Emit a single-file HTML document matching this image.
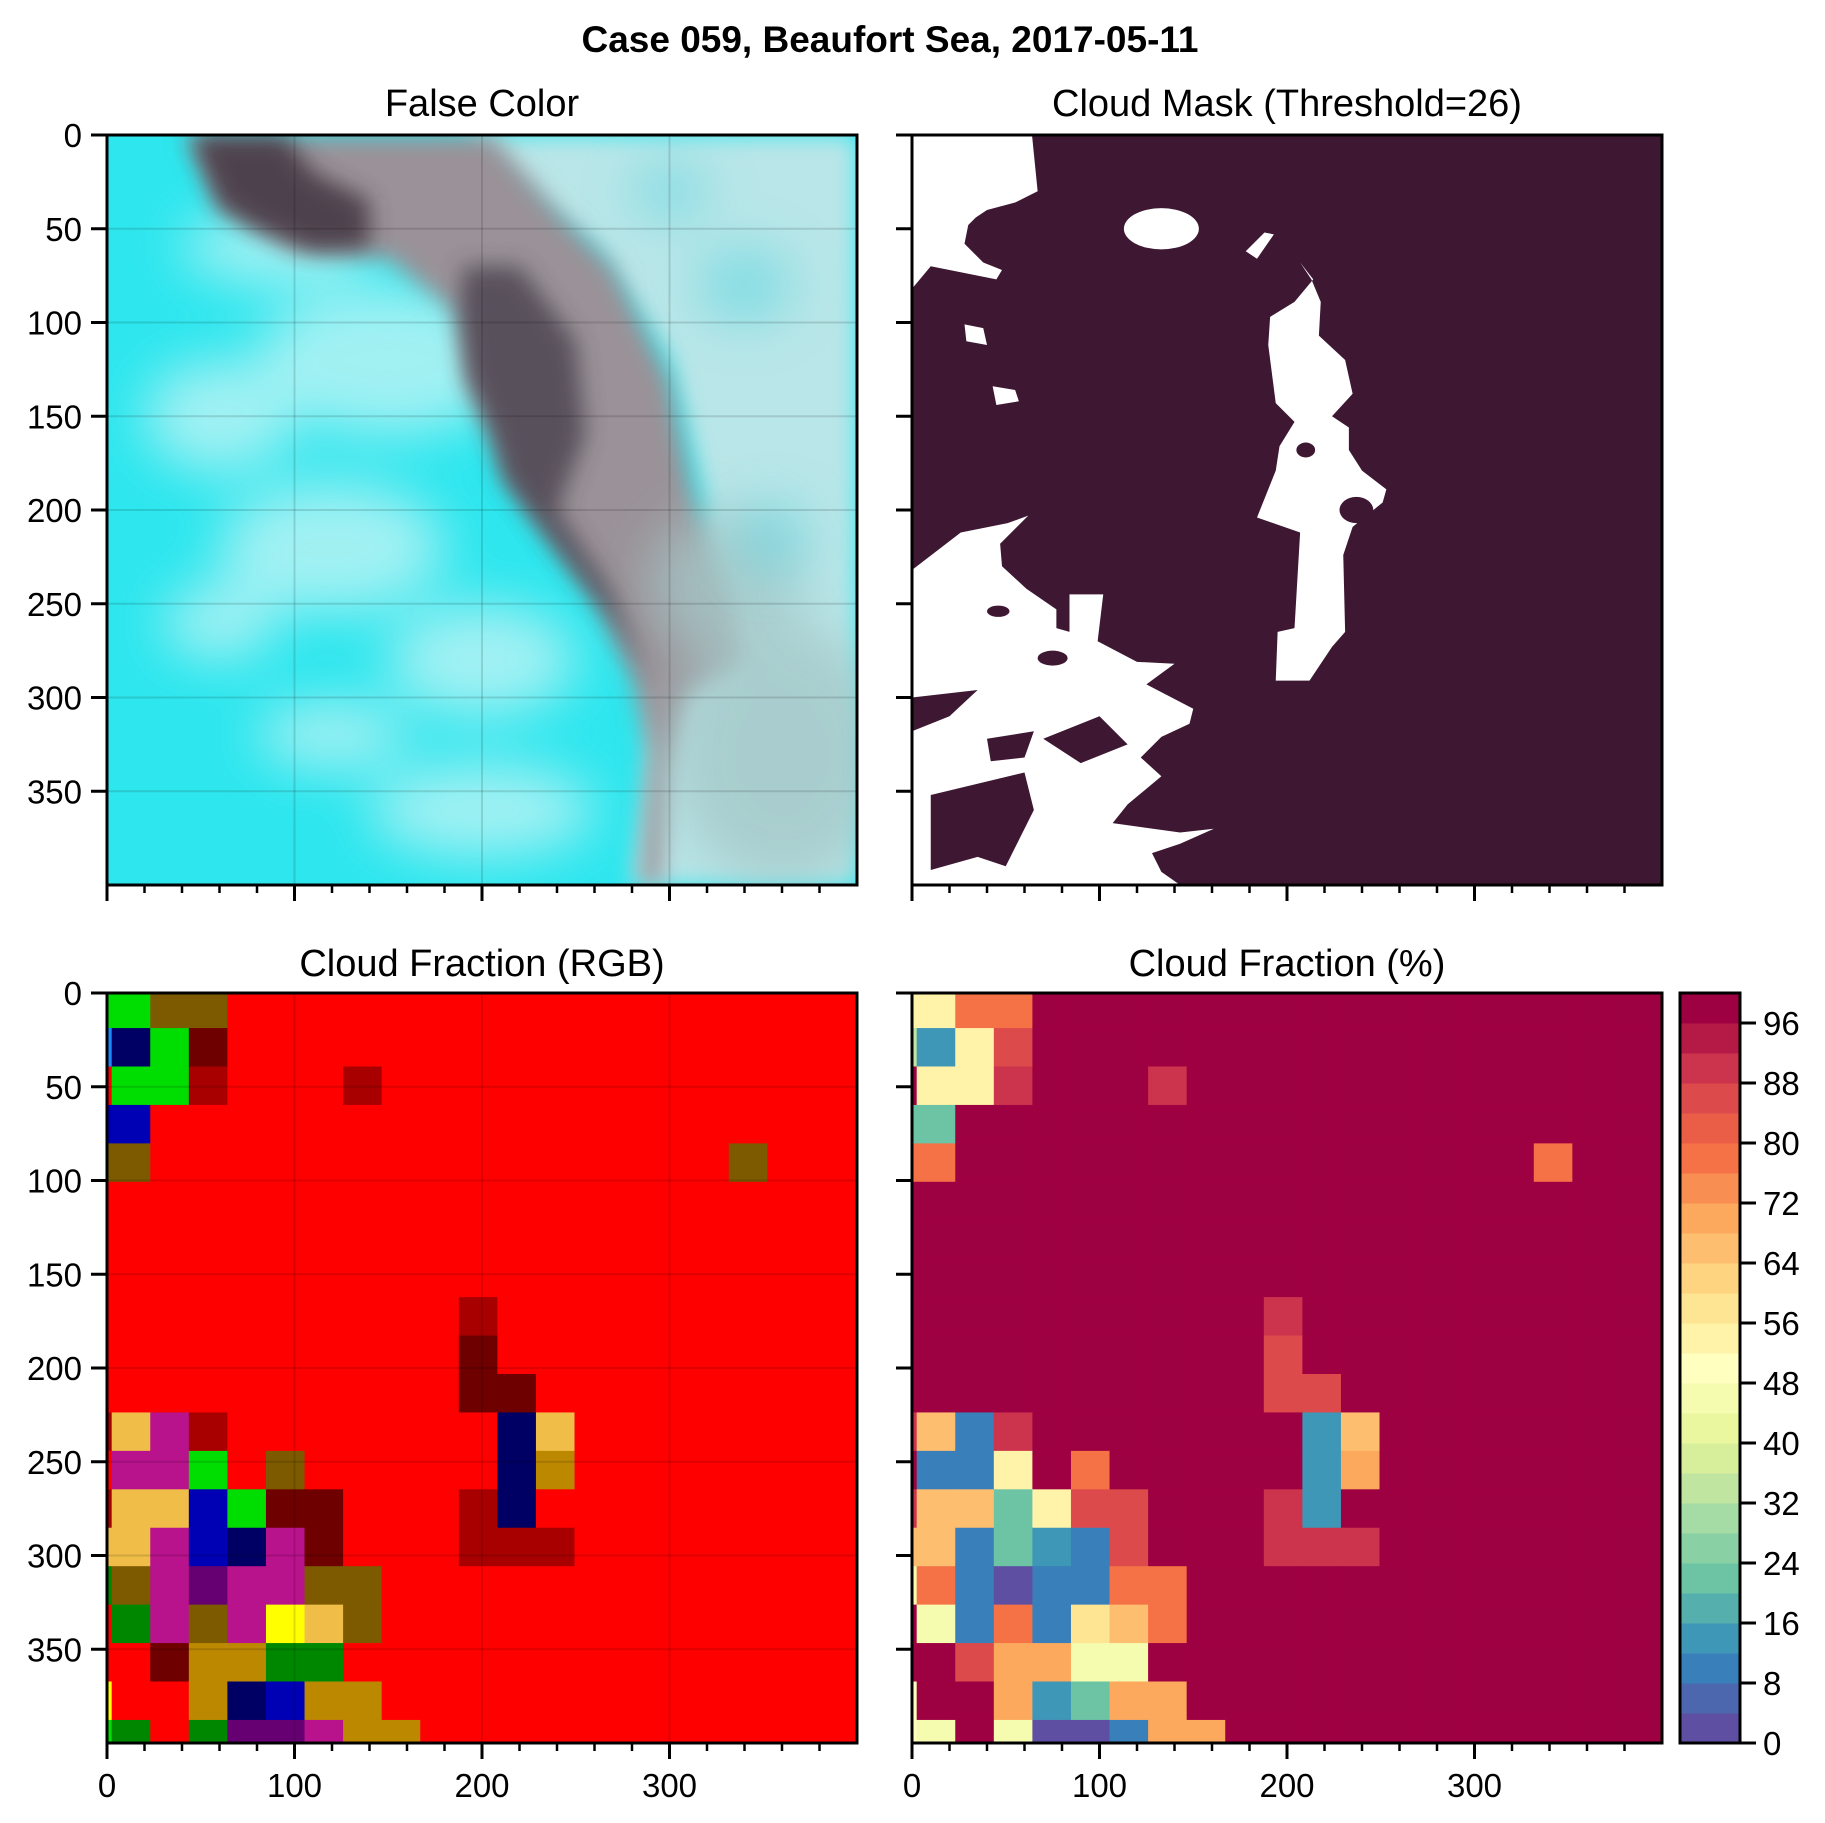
<!DOCTYPE html>
<html><head><meta charset="utf-8">
<style>
html,body{margin:0;padding:0;background:#fff;}
svg{display:block;font-family:"Liberation Sans",Arial,sans-serif;}
</style></head>
<body>
<svg id="fig" width="1825" height="1823" viewBox="0 0 1825 1823" xmlns="http://www.w3.org/2000/svg">
<defs>
  <clipPath id="clipTL"><rect x="107" y="135" width="750" height="750"/></clipPath>
  <clipPath id="clipTR"><rect x="912" y="135" width="750" height="750"/></clipPath>
  <filter id="blur6" x="-20%" y="-20%" width="140%" height="140%"><feGaussianBlur stdDeviation="6"/></filter>
  <filter id="blur14" x="-30%" y="-30%" width="160%" height="160%"><feGaussianBlur stdDeviation="14"/></filter>
</defs>
<text x="890" y="52" text-anchor="middle" font-size="37" font-weight="bold">Case 059, Beaufort Sea, 2017-05-11</text>
<text x="482" y="116" text-anchor="middle" font-size="38">False Color</text>
<text x="1287" y="116" text-anchor="middle" font-size="38">Cloud Mask (Threshold=26)</text>
<text x="482" y="976" text-anchor="middle" font-size="38">Cloud Fraction (RGB)</text>
<text x="1287" y="976" text-anchor="middle" font-size="38">Cloud Fraction (%)</text>

<g clip-path="url(#clipTL)">
  <g transform="translate(107,135) scale(1.875)">
    <rect x="0" y="0" width="400" height="400" fill="#2ee6ee"/>
    <g filter="url(#blur14)" fill="#c8f4f4" opacity="0.75">
      <ellipse cx="150" cy="120" rx="70" ry="40"/>
      <ellipse cx="90" cy="60" rx="50" ry="20"/>
      <ellipse cx="60" cy="150" rx="40" ry="30"/>
      <ellipse cx="120" cy="220" rx="60" ry="35"/>
      <ellipse cx="200" cy="280" rx="50" ry="30"/>
      <ellipse cx="60" cy="260" rx="30" ry="20"/>
      <ellipse cx="200" cy="360" rx="60" ry="25"/>
      <ellipse cx="120" cy="320" rx="40" ry="18"/>
    </g>
    <polygon filter="url(#blur6)" fill="#b9e6e8" points="190,0 400,0 400,400 280,400 290,330 300,270 320,200 300,120 260,60 220,30"/>
    <polygon filter="url(#blur6)" fill="#9a9298" points="42,0 205,0 240,40 270,70 300,130 312,190 330,240 340,280 310,300 300,340 295,400 285,400 290,330 280,290 262,250 240,220 212,182 205,160 192,130 186,95 150,66 100,62 60,40"/>
    <polygon filter="url(#blur6)" fill="#3a2f3a" opacity="0.8" points="45,0 95,0 110,20 140,35 140,60 110,62 80,50 60,38"/>
    <polygon filter="url(#blur6)" fill="#3c3442" opacity="0.7" points="190,70 220,70 250,110 255,160 240,200 270,245 290,290 270,260 240,222 212,185 205,160 192,130 188,95"/>
    <g filter="url(#blur14)" fill="#a6c8c8" opacity="0.8">
      <ellipse cx="360" cy="330" rx="60" ry="70"/>
      <ellipse cx="330" cy="240" rx="40" ry="40"/>
    </g>
    <g filter="url(#blur14)" fill="#5ad6e0" opacity="0.6">
      <ellipse cx="340" cy="80" rx="25" ry="20"/>
      <ellipse cx="355" cy="215" rx="18" ry="18"/>
      <ellipse cx="300" cy="30" rx="20" ry="15"/>
    </g>
  </g>
</g>

<g clip-path="url(#clipTR)">
  <g transform="translate(912,135) scale(1.875)">
    <rect x="0" y="0" width="400" height="400" fill="#3e1832"/>
    <g fill="#ffffff">
      <polygon points="0,0 64,0 67,30 55,36 40,40 34,44 30,48 28,58 38,68 48,72 45,77 30,74 10,70 0,82"/>
      <ellipse cx="133" cy="50" rx="20" ry="11"/>
      <polygon points="178,62 188,52 193,53 184,66"/>
      <polygon points="28,101 38,103 40,112 29,110"/>
      <polygon points="43,134 55,136 57,142 45,144"/>
      <polygon points="207,68 214,77 204,89 191,97 190,112 194,143 204,153 196,166 194,179 184,204 207,212 204,263 195,265 194,291 212,291 224,273 231,265 230,224 235,209 251,196 253,189 240,179 233,168 233,156 224,150 235,138 231,120 217,107 218,89 213,77"/>
      <polygon points="0,232 26,212 51,207 62,203 47,218 48,230 61,242 77,253 77,263 84,265 84,245 102,245 99,270 120,281 140,282 125,293 150,306 148,314 133,321 122,332 133,342 115,357 107,367 143,372 161,370 143,378 128,383 133,393 143,400 0,400"/>
    </g>
    <g fill="#3e1832">
      <polygon points="0,300 35,296 20,310 0,318"/>
      <polygon points="10,352 60,340 65,360 50,390 35,385 10,392"/>
      <polygon points="40,322 65,318 60,332 42,334"/>
      <polygon points="70,322 100,310 115,325 90,335"/>
      <ellipse cx="75" cy="279" rx="8" ry="4"/>
      <ellipse cx="46" cy="254" rx="6" ry="3"/>
      <ellipse cx="210" cy="168" rx="5" ry="4"/>
      <ellipse cx="237" cy="200" rx="9" ry="7"/>
    </g>
  </g>
</g>

<g id="gridBL"></g>
<g id="gridBR"></g>
<g id="overlays"></g>
<g id="axes"></g>
<g id="cbar"></g>
</svg>
<script>
const xTicks = [0, 100, 200, 300];
const xTickLabels = ["0", "100", "200", "300"];
const yTicks = [0, 50, 100, 150, 200, 250, 300, 350];
const yTickLabels = ["0", "50", "100", "150", "200", "250", "300", "350"];
const cbarTicks = [0, 8, 16, 24, 32, 40, 48, 56, 64, 72, 80, 88, 96];
const cbarLevels = [0,4,8,12,16,20,24,28,32,36,40,44,48,52,56,60,64,68,72,76,80,84,88,92,96,100];
const pctRows = [
[54,54,78,78,98,98,98,98,98,98,98,98,98,98,98,98,98,98,98,98,98],
[34,14,54,86,98,98,98,98,98,98,98,98,98,98,98,98,98,98,98,98,98],
[98,54,54,90,98,98,98,90,98,98,98,98,98,98,98,98,98,98,98,98,98],
[22,22,98,98,98,98,98,98,98,98,98,98,98,98,98,98,98,98,98,98,98],
[78,78,98,98,98,98,98,98,98,98,98,98,98,98,98,98,98,78,98,98,98],
[98,98,98,98,98,98,98,98,98,98,98,98,98,98,98,98,98,98,98,98,98],
[98,98,98,98,98,98,98,98,98,98,98,98,98,98,98,98,98,98,98,98,98],
[98,98,98,98,98,98,98,98,98,98,98,98,98,98,98,98,98,98,98,98,98],
[98,98,98,98,98,98,98,98,98,98,90,98,98,98,98,98,98,98,98,98,98],
[98,98,98,98,98,98,98,98,98,98,86,98,98,98,98,98,98,98,98,98,98],
[98,98,98,98,98,98,98,98,98,98,86,86,98,98,98,98,98,98,98,98,98],
[90,66,10,90,98,98,98,98,98,98,98,14,66,98,98,98,98,98,98,98,98],
[98,10,10,54,98,78,98,98,98,98,98,14,70,98,98,98,98,98,98,98,98],
[90,66,66,22,54,86,86,98,98,98,90,14,98,98,98,98,98,98,98,98,98],
[66,66,10,22,14,10,86,98,98,98,90,90,90,98,98,98,98,98,98,98,98],
[46,78,10,2,10,10,78,78,98,98,98,98,98,98,98,98,98,98,98,98,98],
[98,46,10,78,10,58,66,78,98,98,98,98,98,98,98,98,98,98,98,98,98],
[98,98,86,70,70,46,46,98,98,98,98,98,98,98,98,98,98,98,98,98,98],
[50,98,98,70,14,22,70,70,98,98,98,98,98,98,98,98,98,98,98,98,98],
[50,46,98,46,2,2,10,70,70,98,98,98,98,98,98,98,98,98,98,98,98]
];
const rgbRows = [
"GGOORRRRRRRRRRRRRRRRR",
"CNGdRRRRRRRRRRRRRRRRR",
"RGGDRRRDRRRRRRRRRRRRR",
"BBRRRRRRRRRRRRRRRRRRR",
"OORRRRRRRRRRRRRRRORRR",
"RRRRRRRRRRRRRRRRRRRRR",
"RRRRRRRRRRRRRRRRRRRRR",
"RRRRRRRRRRRRRRRRRRRRR",
"RRRRRRRRRRDRRRRRRRRRR",
"RRRRRRRRRRdRRRRRRRRRR",
"RRRRRRRRRRddRRRRRRRRR",
"DYMDRRRRRRRNYRRRRRRRR",
"RMMGRORRRRRNARRRRRRRR",
"DYYBGddRRRDNRRRRRRRRR",
"YYMBNMdRRRDDDRRRRRRRR",
"gOMPMMOORRRRRRRRRRRRR",
"RgMOMLYORRRRRRRRRRRRR",
"RRdAAggRRRRRRRRRRRRRR",
"LRRANBAARRRRRRRRRRRRR",
"GgRgPPMAARRRRRRRRRRRR"
];
const rgbPalette = {R:"#ff0000",D:"#a80000",d:"#6e0000",G:"#00dd00",N:"#000064",B:"#0000b4",
  O:"#7d5a00",Y:"#f0be48",M:"#b8128c",P:"#660072",L:"#ffff00",g:"#008700",A:"#bc8800",C:"#1a88ff"};

const S = 1.875, SIZE = 750;
const panels = {TL:[107,135], TR:[912,135], BL:[107,993], BR:[912,993]};
function xs(p,u){ return panels[p][0] + u*S; }
function ys(p,u){ return panels[p][1] + u*S; }
function colEdge(c){ return c<=0 ? 0 : Math.min(400, 2.5 + 20.57*(c-1)); }
function rowEdge(r){ return r<=0 ? 0 : Math.min(400, 18.7 + 20.5*(r-1)); }
const NS = "http://www.w3.org/2000/svg";
function el(tag, attrs, parent){ const e=document.createElementNS(NS,tag); for(const k in attrs) e.setAttribute(k,attrs[k]); parent.appendChild(e); return e; }

const spec = ["#5e4fa2","#3288bd","#66c2a5","#abdda4","#e6f598","#ffffbf","#fee08b","#fdae61","#f46d43","#d53e4f","#9e0142"];
function hex2rgb(h){ return [1,3,5].map(i=>parseInt(h.substr(i,2),16)); }
function spectral(t){ t=Math.max(0,Math.min(1,t)); const f=t*10, i=Math.min(9,Math.floor(f)), w=f-i;
  const a=hex2rgb(spec[i]), b=hex2rgb(spec[i+1]);
  return "rgb("+a.map((v,k)=>Math.round(v+(b[k]-v)*w)).join(",")+")"; }
function pctColor(v){ let bin=Math.floor(v/4); bin=Math.max(0,Math.min(24,bin)); return spectral(bin/24); }

const gBL=document.getElementById('gridBL'), gBR=document.getElementById('gridBR');
rgbRows.forEach((row,r)=>{
  for(let c=0;c<row.length;c++){
    const x0=colEdge(c), x1=colEdge(c+1), y0=rowEdge(r), y1=rowEdge(r+1);
    if(x1<=x0||y1<=y0) continue;
    const rc=el('rect',{x:xs('BL',x0),y:ys('BL',y0),width:(x1-x0)*S+0.5,height:(y1-y0)*S+0.5,fill:rgbPalette[row[c]]||"#ff0000"},gBL);
    
    
  }
});
pctRows.forEach((row,r)=>{
  row.forEach((v,c)=>{
    const x0=colEdge(c), x1=colEdge(c+1), y0=rowEdge(r), y1=rowEdge(r+1);
    if(x1<=x0||y1<=y0) return;
    const rc=el('rect',{x:xs('BR',x0),y:ys('BR',y0),width:(x1-x0)*S+0.5,height:(y1-y0)*S+0.5,fill:pctColor(v)},gBR);
    
    
  });
});

const ov=document.getElementById('overlays');
['TL','BL'].forEach(p=>{
  xTicks.slice(1).forEach(t=>{ const l=el('line',{x1:xs(p,t),x2:xs(p,t),y1:ys(p,0),y2:ys(p,400),stroke:"rgba(0,0,0,0.13)","stroke-width":2},ov);
      });
  yTicks.slice(1).forEach(t=>{ const l=el('line',{x1:xs(p,0),x2:xs(p,400),y1:ys(p,t),y2:ys(p,t),stroke:"rgba(0,0,0,0.13)","stroke-width":2},ov);
      });
});

const ax=document.getElementById('axes');
Object.keys(panels).forEach(p=>{
  const fr=el('rect',{x:panels[p][0],y:panels[p][1],width:SIZE,height:SIZE,fill:"none",stroke:"#000","stroke-width":3},ax);
  
  
  const yb=ys(p,400);
  for(let m=20;m<400;m+=20){ if(m%100===0) continue;
    const t=el('line',{x1:xs(p,m),x2:xs(p,m),y1:yb,y2:yb+8,stroke:"#000","stroke-width":2.5},ax);
      }
  xTicks.forEach((v,i)=>{
    const t=el('line',{x1:xs(p,v),x2:xs(p,v),y1:yb,y2:yb+16,stroke:"#000","stroke-width":3},ax);
     
    if(p==='BL'||p==='BR'){
      const tx=el('text',{x:xs(p,v),y:yb+54,"text-anchor":"middle","font-size":33},ax);
      tx.textContent=xTickLabels[i];
       
    }
  });
  yTicks.forEach((v,i)=>{
    const xl=panels[p][0];
    const t=el('line',{x1:xl-16,x2:xl,y1:ys(p,v),y2:ys(p,v),stroke:"#000","stroke-width":3},ax);
     
    if(p==='TL'||p==='BL'){
      const tx=el('text',{x:xl-25,y:ys(p,v)+12,"text-anchor":"end","font-size":33},ax);
      tx.textContent=yTickLabels[i];
       
    }
  });
});

const cb=document.getElementById('cbar');
const CBX=1680, CBW=60, CBTOP=993, CBBOT=1743;
function cy(v){ return CBBOT - (v/100)*(CBBOT-CBTOP); }
for(let i=0;i<cbarLevels.length-1;i++){
  const a=cbarLevels[i], b=cbarLevels[i+1];
  const r=el('rect',{x:CBX,y:cy(b),width:CBW,height:cy(a)-cy(b)+0.5,fill:pctColor((a+b)/2)},cb);
   
}
const cf=el('rect',{x:CBX,y:CBTOP,width:CBW,height:CBBOT-CBTOP,fill:"none",stroke:"#000","stroke-width":3},cb);
 
cbarTicks.forEach(v=>{
  const t=el('line',{x1:CBX+CBW,x2:CBX+CBW+16,y1:cy(v),y2:cy(v),stroke:"#000","stroke-width":3},cb);
   
  const tx=el('text',{x:CBX+CBW+23,y:cy(v)+12,"font-size":33},cb);
  tx.textContent=String(v);
   
});
</script>
</body></html>
